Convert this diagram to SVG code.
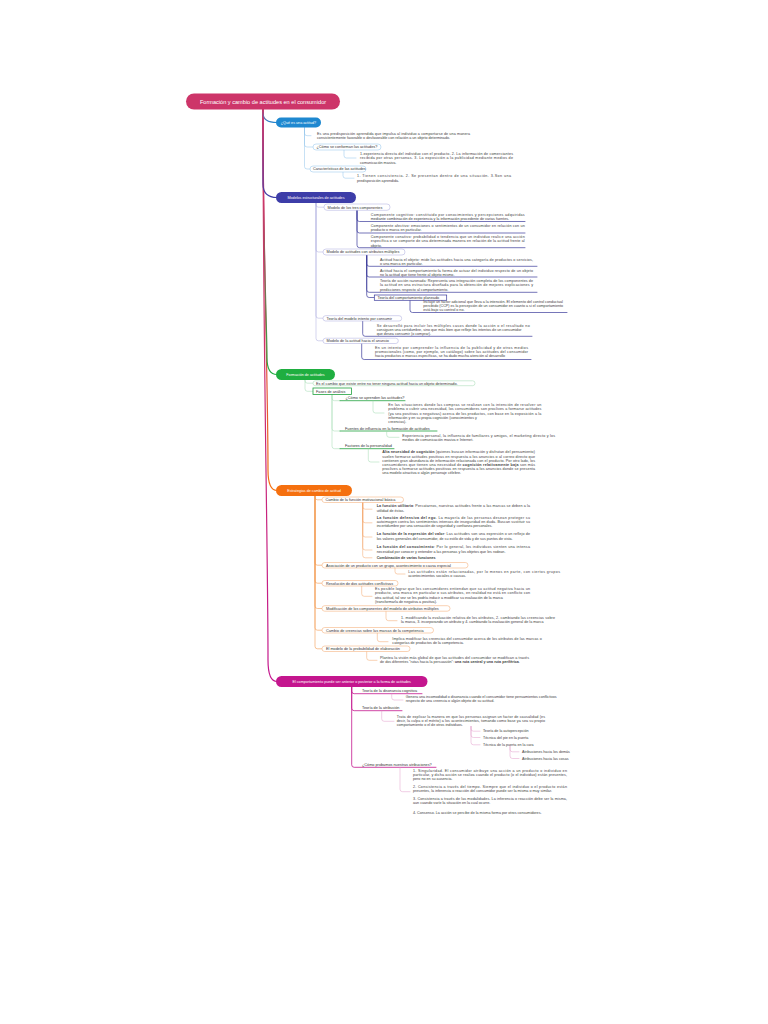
<svg xmlns="http://www.w3.org/2000/svg" width="768" height="1024" viewBox="0 0 768 1024">
<defs>
<style>
text{font-family:"Liberation Sans",Arial,Helvetica,sans-serif}
.t{font-size:3.7px;fill:#3c3c3c}
.l{font-size:3.8px;fill:#333}
.w{font-size:3.7px;fill:#fff;text-anchor:middle}
.ti{font-size:5.6px;fill:#fff;text-anchor:middle}
.b{font-weight:bold}
.c{fill:none;stroke-linecap:round;stroke-linejoin:round}
.tr{stroke-width:1.2}
.bx{fill:#fff;stroke-width:0.5}
.s1{stroke:#8fc3ea;stroke-width:0.5}
.s2l{stroke:#a9a9dc;stroke-width:0.5}
.s2d{stroke:#3b3b9b;stroke-width:0.7}
.s3l{stroke:#9fd9ae;stroke-width:0.5}
.s3d{stroke:#22a23f;stroke-width:0.8}
.s4{stroke:#f3a468;stroke-width:0.5}
.s4m{stroke:#f39a50;stroke-width:0.6}
.s5l{stroke:#e39ccb;stroke-width:0.5}
.s5d{stroke:#c4168e;stroke-width:0.8}
</style>
<linearGradient id="gB" gradientUnits="userSpaceOnUse" x1="0" y1="109" x2="0" y2="123"><stop offset="0" stop-color="#cd3569"/><stop offset="1" stop-color="#1e88d0"/></linearGradient>
<linearGradient id="gI" gradientUnits="userSpaceOnUse" x1="0" y1="109" x2="0" y2="198"><stop offset="0" stop-color="#cd3569"/><stop offset="1" stop-color="#3d3da8"/></linearGradient>
<linearGradient id="gG" gradientUnits="userSpaceOnUse" x1="0" y1="200" x2="0" y2="375"><stop offset="0" stop-color="#cd3569"/><stop offset="1" stop-color="#1fae40"/></linearGradient>
<linearGradient id="gO" gradientUnits="userSpaceOnUse" x1="0" y1="250" x2="0" y2="491"><stop offset="0" stop-color="#cd3569"/><stop offset="1" stop-color="#f5700f"/></linearGradient>
<linearGradient id="gM" gradientUnits="userSpaceOnUse" x1="0" y1="300" x2="0" y2="682"><stop offset="0" stop-color="#cd3569"/><stop offset="1" stop-color="#c4168e"/></linearGradient>
</defs>
<rect width="768" height="1024" fill="#fff"/>

<g id="connectors">
<path class="c tr" stroke="url(#gM)" d="M263,109 C263,350 268,550 268,660 Q268,681.5 277,681.5"/>
<path class="c tr" stroke="url(#gO)" d="M263,109 C263,250 268,380 268,470 Q268,490.5 277,490.5"/>
<path class="c tr" stroke="url(#gG)" d="M263,109 C263,250 267,330 267,358 Q267,374.5 277,374.5"/>
<path class="c tr" stroke="url(#gI)" d="M263,109 V184 Q263,197.5 277,197.5"/>
<path class="c tr" stroke="url(#gB)" d="M263,109 V113 Q263,122.5 277,122.5"/>

<path class="c s1" d="M304.5,127.5 V133.2 Q304.5,135.7 307,135.7 H311"/>
<path class="c s1" d="M304.5,127.5 V144.5 Q304.5,147 307,147 H313"/>
<path class="c s1" d="M304.5,127.5 V166.5 Q304.5,169 307,169 H310"/>
<path class="c s1" d="M344,150 V155.5 Q344,158 346.5,158 H356"/>
<path class="c s1" d="M343,172 V175.7 Q343,178.2 345.5,178.2 H354"/>

<path class="c s2l" d="M316,203 V204.7 Q316,207.2 318.5,207.2 H324"/>
<path class="c s2l" d="M316,203 V249.5 Q316,252 318.5,252 H323"/>
<path class="c s2l" d="M316,203 V315.7 Q316,318.2 318.5,318.2 H323"/>
<path class="c s2l" d="M316,203 V338.3 Q316,340.8 318.5,340.8 H323"/>
<path class="c s2d" d="M357,210.5 V219 Q357,221.5 359.5,221.5 H525"/>
<path class="c s2d" d="M357,210.5 V230.5 Q357,233 359.5,233 H525"/>
<path class="c s2d" d="M357,210.5 V245.2 Q357,247.7 359.5,247.7 H525"/>
<path class="c s2d" d="M366.7,255 V263.8 Q366.7,266.3 369.2,266.3 H537"/>
<path class="c s2d" d="M366.7,255 V274.5 Q366.7,277 369.2,277 H537"/>
<path class="c s2d" d="M366.7,255 V289.8 Q366.7,292.3 369.2,292.3 H537"/>
<path class="c s2d" d="M366.7,255 V295 Q366.7,297.5 369.2,297.5 H374.3"/>
<path class="c s2d" d="M410,300.5 V310 Q410,312.5 412.5,312.5 H567"/>
<path class="c s2d" d="M362.7,321 V333.8 Q362.7,336.3 365.2,336.3 H532"/>
<path class="c s2d" d="M361.7,343.5 V357 Q361.7,359.5 364.2,359.5 H531"/>

<path class="c s3l" d="M305,380 V380.7 Q305,383.2 307.5,383.2 H313"/>
<path class="c s3l" d="M305,380 V388.8 Q305,391.3 307.5,391.3 H313"/>
<path class="c s3l" d="M332,394.5 V398.2 Q332,400.7 334.5,400.7 H340"/>
<path class="c s3l" d="M332,394.5 V428.5 Q332,431 334.5,431 H340"/>
<path class="c s3l" d="M332,394.5 V446.2 Q332,448.7 334.5,448.7 H340"/>
<path class="c s3d" d="M340,400.7 H405"/>
<path class="c s3d" d="M340,431 H437"/>
<path class="c s3d" d="M340,448.7 H394"/>
<path class="c s3l" d="M373,401 V410.5 Q373,413 375.5,413 H384"/>
<path class="c s3l" d="M386.7,431.3 V434.8 Q386.7,437.3 389.2,437.3 H399"/>
<path class="c s3l" d="M368.3,449 V459.5 Q368.3,462 370.8,462 H379"/>

<path class="c s4m" d="M315,496 V497.3 Q315,499.8 317.5,499.8 H322"/>
<path class="c s4m" d="M315,496 V562.7 Q315,565.2 317.5,565.2 H322"/>
<path class="c s4m" d="M315,496 V580.7 Q315,583.2 317.5,583.2 H322"/>
<path class="c s4m" d="M315,496 V606 Q315,608.5 317.5,608.5 H322"/>
<path class="c s4m" d="M315,496 V627.7 Q315,630.2 317.5,630.2 H322"/>
<path class="c s4m" d="M315,496 V646.3 Q315,648.8 317.5,648.8 H322"/>
<path class="c s4" d="M362.7,502.5 V506.7 Q362.7,509.2 365.2,509.2 H372"/>
<path class="c s4" d="M362.7,502.5 V520.3 Q362.7,522.8 365.2,522.8 H372"/>
<path class="c s4" d="M362.7,502.5 V534.5 Q362.7,537 365.2,537 H372"/>
<path class="c s4" d="M362.7,502.5 V547.5 Q362.7,550 365.2,550 H372"/>
<path class="c s4" d="M362.7,502.5 V555.3 Q362.7,557.8 365.2,557.8 H372"/>
<path class="c s4" d="M395,568 V571.5 Q395,574 397.5,574 H405"/>
<path class="c s4" d="M361.7,586 V593.8 Q361.7,596.3 364.2,596.3 H372"/>
<path class="c s4" d="M386,611.2 V618.2 Q386,620.7 388.5,620.7 H397"/>
<path class="c s4" d="M377.3,633 V639.2 Q377.3,641.7 379.8,641.7 H388"/>
<path class="c s4" d="M366.7,651.5 V657.8 Q366.7,660.3 369.2,660.3 H377"/>

<path class="c s5d" d="M351.7,687 V691.2 Q351.7,693.7 354.2,693.7 H422"/>
<path class="c s5d" d="M351.7,687 V708.2 Q351.7,710.7 354.2,710.7 H402"/>
<path class="c s5d" d="M351.7,687 V764.8 Q351.7,767.3 354.2,767.3 H436"/>
<path class="c s5l" d="M391.7,694 V697.5 Q391.7,700 394.2,700 H403"/>
<path class="c s5l" d="M381.7,711 V718.8 Q381.7,721.3 384.2,721.3 H394"/>
<path class="c s5l" d="M471,726.5 V728.7 Q471,731.2 473.5,731.2 H480"/>
<path class="c s5l" d="M471,726.5 V735 Q471,737.5 473.5,737.5 H480"/>
<path class="c s5l" d="M471,726.5 V742.3 Q471,744.8 473.5,744.8 H480"/>
<path class="c s5l" d="M510,746.5 V749.3 Q510,751.8 512.5,751.8 H519"/>
<path class="c s5l" d="M510,746.5 V756 Q510,758.5 512.5,758.5 H519"/>
<path class="c s5l" d="M400,767.5 V789.2 Q400,791.7 402.5,791.7 H410"/>
</g>

<g id="n-title">
<rect x="186" y="93.5" width="154" height="16" rx="8" fill="#cd3569"/>
<text class="ti" x="263" y="103.5">Formación y cambio de actitudes en el consumidor</text>
</g>

<g id="n-s1">
<rect x="276" y="117.5" width="45" height="10" rx="5" fill="#1e88d0"/>
<text class="w" x="298.5" y="123.8">¿Qué es una actitud?</text>
</g>
<g id="n-s1-def">
<text class="t" x="317" y="134.5" textLength="153">Es una predisposición aprendida que impulsa al individuo a comportarse de una manera</text>
<text class="t" x="317" y="139">consistentemente favorable o desfavorable con relación a un objeto determinado.</text>
</g>
<g id="n-s1-como">
<rect class="bx s1" x="313" y="144" width="68" height="6" rx="3"/>
<text class="l" x="316.5" y="148.4">¿Cómo se conforman las actitudes?</text>
</g>
<g id="n-s1-como-t">
<text class="t" x="360" y="154.6" textLength="153">1.experiencia directa del individuo con el producto. 2. La información de comerciantes</text>
<text class="t" x="360" y="159.1" textLength="153">recibida por otras personas. 3. La exposición a la publicidad mediante medios de</text>
<text class="t" x="360" y="163.5">comunicación masiva.</text>
</g>
<g id="n-s1-car">
<rect class="bx s1" x="310" y="166" width="56" height="6" rx="3"/>
<text class="l" x="313" y="170.4">Características de las actitudes</text>
</g>
<g id="n-s1-car-t">
<text class="t" x="357" y="177.3" textLength="154">1. Tienen consistencia. 2. Se presentan dentro de una situación. 3.Son una</text>
<text class="t" x="357" y="181.7">predisposición aprendida.</text>
</g>

<g id="n-s2">
<rect x="276" y="192" width="80" height="11" rx="5.5" fill="#3d3da8"/>
<text class="w" x="316" y="198.8">Modelos estructurales de actitudes</text>
</g>
<g id="n-s2-tres">
<rect class="bx s2l" x="324" y="204" width="66" height="6.3" rx="3"/>
<text class="l" x="327.5" y="208.5">Modelo de los tres componentes</text>
</g>
<g id="n-s2-cog">
<text class="t" x="370.7" y="215.6" textLength="154">Componente cognitivo: constituido por conocimientos y percepciones adquiridas</text>
<text class="t" x="370.7" y="220">mediante combinación de experiencia y la información procedente de varias fuentes.</text>
</g>
<g id="n-s2-afe">
<text class="t" x="370.7" y="227" textLength="154">Componente afectivo: emociones o sentimientos de un consumidor en relación con un</text>
<text class="t" x="370.7" y="231.3">producto o marca en particular.</text>
</g>
<g id="n-s2-con">
<text class="t" x="370.7" y="238" textLength="154">Componente conativo: probabilidad o tendencia que un individuo realice una acción</text>
<text class="t" x="370.7" y="242.3" textLength="154">específica o se comporte de una determinada manera en relación de la actitud frente al</text>
<text class="t" x="370.7" y="246.6">objeto.</text>
</g>
<g id="n-s2-atr">
<rect class="bx s2l" x="323" y="249" width="82" height="6" rx="3"/>
<text class="l" x="326.5" y="253.3">Modelo de actitudes con atributos múltiples</text>
</g>
<g id="n-s2-obj">
<text class="t" x="380" y="261" textLength="153">Actitud hacia el objeto: mide las actitudes hacia una categoría de productos o servicios,</text>
<text class="t" x="380" y="265.2">o una marca en particular.</text>
</g>
<g id="n-s2-comp">
<text class="t" x="380" y="271.6" textLength="153">Actitud hacia el comportamiento:la forma de actuar del individuo respecto de un objeto</text>
<text class="t" x="380" y="275.9">no la actitud que tiene frente al objeto mismo.</text>
</g>
<g id="n-s2-raz">
<text class="t" x="380" y="282" textLength="153">Teoría de acción razonada: Representa una integración completa de los componentes de</text>
<text class="t" x="380" y="286.3" textLength="153">la actitud en una estructura diseñada para la obtención de mejores explicaciones y</text>
<text class="t" x="380" y="290.6">predicciones respecto al comportamiento.</text>
</g>
<g id="n-s2-plan">
<rect x="374.3" y="295" width="72.4" height="5.3" fill="#fff" stroke="#3b3b9b" stroke-width="0.7"/>
<text class="l" x="377.5" y="299">Teoría del comportamiento planeado</text>
</g>
<g id="n-s2-plan-t">
<text class="t" x="423.3" y="302.8">Incluye un factor adicional que lleva a la intención. El elemento del control conductual</text>
<text class="t" x="423.3" y="307.1">percibido (CCP) es la percepción de un consumidor en cuanto a si el comportamiento</text>
<text class="t" x="423.3" y="311.3">está bajo su control o no.</text>
</g>
<g id="n-s2-int">
<rect class="bx s2l" x="323" y="315.7" width="78.7" height="5.3" rx="2.6"/>
<text class="l" x="326.5" y="319.6">Teoría del modelo intento por consumir</text>
</g>
<g id="n-s2-int-t">
<text class="t" x="376.7" y="326.6" textLength="153">Se desarrolló para incluir los múltiples casos donde la acción o el resultado no</text>
<text class="t" x="376.7" y="330.6">consiguen una certidumbre, sino que más bien que refleje los intentos de un consumidor</text>
<text class="t" x="376.7" y="334.6">que desea consumir (o comprar).</text>
</g>
<g id="n-s2-anu">
<rect class="bx s2l" x="323" y="338.2" width="75.3" height="5.3" rx="2.6"/>
<text class="l" x="326.5" y="342.1">Modelo de la actitud hacia el anuncio</text>
</g>
<g id="n-s2-anu-t">
<text class="t" x="375" y="348.6" textLength="153">En un intento por comprender la influencia de la publicidad y de otros medios</text>
<text class="t" x="375" y="352.6" textLength="153">promocionales (como, por ejemplo, un catálogo) sobre las actitudes del consumidor</text>
<text class="t" x="375" y="357">hacia productos o marcas específicas, se ha dado mucha atención al desarrollo</text>
</g>

<g id="n-s3">
<rect x="276" y="369" width="59" height="11" rx="5.5" fill="#1fae40"/>
<text class="w" x="305.5" y="375.8">Formación de actitudes</text>
</g>
<g id="n-s3-def">
<rect class="bx s3l" x="313" y="380.8" width="162" height="4.9" rx="2.4"/>
<text class="l" x="316" y="384.5">Es el cambio que existe entre no tener ninguna actitud hacia un objeto determinado.</text>
</g>
<g id="n-s3-fases">
<rect x="313" y="388" width="38.5" height="6.5" fill="#fff" stroke="#22a23f" stroke-width="0.8"/>
<text class="l" x="316" y="392.6">Fases de análisis</text>
</g>
<g id="n-s3-apr">
<text class="l" x="345.5" y="399.4">¿Cómo se aprenden las actitudes?</text>
</g>
<g id="n-s3-apr-t">
<text class="t" x="388.3" y="406" textLength="153">En las situaciones donde las compras se realizan con la intención de resolver un</text>
<text class="t" x="388.3" y="410.3" textLength="153">problema o cubrir una necesidad, los consumidores son proclives a formarse actitudes</text>
<text class="t" x="388.3" y="414.6" textLength="153">(ya sea positivas o negativas) acerca de los productos, con base en la exposición a la</text>
<text class="t" x="388.3" y="418.8">información y en su propia cognición (conocimientos y</text>
<text class="t" x="388.3" y="423.3">creencias).</text>
</g>
<g id="n-s3-fue">
<text class="l" x="345" y="429.6">Fuentes de influencia en la formación de actitudes</text>
</g>
<g id="n-s3-fue-t">
<text class="t" x="402.3" y="436.6" textLength="152.7">Experiencia personal, la influencia de familiares y amigos, el marketing directo y los</text>
<text class="t" x="402.3" y="440.8">medios de comunicación masiva e Internet.</text>
</g>
<g id="n-s3-per">
<text class="l" x="345" y="447.3">Factores de la personalidad</text>
</g>
<g id="n-s3-per-t">
<text class="t" x="382.3" y="453.3" textLength="152.7"><tspan class="b">Alta necesidad de cognición</tspan> (quienes buscan información y disfrutan del pensamiento)</text>
<text class="t" x="382.3" y="457.6" textLength="152.7">suelen formarse actitudes positivas en respuesta a los anuncios o al correo directo que</text>
<text class="t" x="382.3" y="461.7" textLength="152.7">contienen gran abundancia de información relacionada con el producto. Por otro lado, los</text>
<text class="t" x="382.3" y="465.8" textLength="152.7">consumidores que tienen una necesidad de <tspan class="b">cognición relativamente baja</tspan> son más</text>
<text class="t" x="382.3" y="470" textLength="152.7">proclives a formarse actitudes positivas en respuesta a los anuncios donde se presenta</text>
<text class="t" x="382.3" y="474.1">una modelo atractiva o algún personaje célebre.</text>
</g>

<g id="n-s4">
<rect x="276" y="485" width="76" height="11" rx="5.5" fill="#f5700f"/>
<text class="w" x="314" y="491.8">Estrategias de cambio de actitud</text>
</g>
<g id="n-s4-mot">
<rect class="bx s4" x="322" y="497" width="81.5" height="5.5" rx="2.7"/>
<text class="l" x="325.5" y="501">Cambio de la función motivacional básica</text>
</g>
<g id="n-s4-util">
<text class="t" x="376.7" y="507.3" textLength="153.3"><tspan class="b">La función utilitaria</tspan>: Percatarnos, nuestras actitudes frente a las marcas se deben a la</text>
<text class="t" x="376.7" y="511.8">utilidad de éstas.</text>
</g>
<g id="n-s4-ego">
<text class="t" x="376.7" y="518.6" textLength="153.3"><tspan class="b">La función defensiva del ego</tspan>. La mayoría de las personas desean proteger su</text>
<text class="t" x="376.7" y="523" textLength="153.3">autoimagen contra los sentimientos intensos de inseguridad en duda. Buscan sustituir su</text>
<text class="t" x="376.7" y="527.3">incertidumbre por una sensación de seguridad y confianza personales.</text>
</g>
<g id="n-s4-val">
<text class="t" x="376.7" y="535.3" textLength="153.3"><tspan class="b">La función de la expresión del valor</tspan>: Las actitudes son una expresión o un reflejo de</text>
<text class="t" x="376.7" y="539.5">los valores generales del consumidor, de su estilo de vida y de sus puntos de vista.</text>
</g>
<g id="n-s4-con">
<text class="t" x="376.7" y="548.3" textLength="153.3"><tspan class="b">La función del conocimiento</tspan>: Por lo general, los individuos sienten una intensa</text>
<text class="t" x="376.7" y="552.6">necesidad por conocer y entender a las personas y los objetos que les rodean.</text>
</g>
<g id="n-s4-comb">
<text class="t b" x="376.7" y="559.3">Combinación de varias funciones</text>
</g>
<g id="n-s4-aso">
<rect class="bx s4" x="322" y="562.5" width="146" height="5.5" rx="2.7"/>
<text class="l" x="326" y="566.5">Asociación de un producto con un grupo, acontecimiento o causa especial</text>
</g>
<g id="n-s4-aso-t">
<text class="t" x="408.3" y="572.6" textLength="151.7">Las actitudes están relacionadas, por lo menos en parte, con ciertos grupos</text>
<text class="t" x="408.3" y="577">acontecimientos sociales o causas.</text>
</g>
<g id="n-s4-res">
<rect class="bx s4" x="322" y="580.5" width="76" height="5.5" rx="2.7"/>
<text class="l" x="326" y="584.5">Resolución de dos actitudes conflictivas</text>
</g>
<g id="n-s4-res-t">
<text class="t" x="375" y="590.3" textLength="155">Es posible lograr que los consumidores entiendan que su actitud negativa hacia un</text>
<text class="t" x="375" y="594.4" textLength="155">producto, una marca en particular o sus atributos, en realidad no está en conflicto con</text>
<text class="t" x="375" y="598.6">otra actitud, tal vez se les podría inducir a modificar su evaluación de la marca</text>
<text class="t" x="375" y="602.9">(transformarla de negativa a positiva).</text>
</g>
<g id="n-s4-mod">
<rect class="bx s4" x="322" y="605.7" width="128" height="5.5" rx="2.7"/>
<text class="l" x="326" y="609.7">Modificación de los componentes del modelo de atributos múltiples</text>
</g>
<g id="n-s4-mod-t">
<text class="t" x="401" y="619" textLength="154">1. modificando la evaluación relativa de los atributos, 2. cambiando las creencias sobre</text>
<text class="t" x="401" y="623.1">la marca, 3. incorporando un atributo y 4. cambiando la evaluación general de la marca</text>
</g>
<g id="n-s4-cre">
<rect class="bx s4" x="322" y="627.5" width="111.5" height="5.5" rx="2.7"/>
<text class="l" x="326" y="631.5">Cambio de creencias sobre las marcas de la competencia</text>
</g>
<g id="n-s4-cre-t">
<text class="t" x="392.3" y="640" textLength="149.4">Implica modificar las creencias del consumidor acerca de los atributos de las marcas o</text>
<text class="t" x="392.3" y="644.1">categorías de productos de la competencia.</text>
</g>
<g id="n-s4-ela">
<rect class="bx s4" x="322" y="646" width="88" height="5.5" rx="2.7"/>
<text class="l" x="326" y="650">El modelo de la probabilidad de elaboración</text>
</g>
<g id="n-s4-ela-t">
<text class="t" x="380" y="658.6" textLength="149">Plantea la visión más global de que las actitudes del consumidor se modifican a través</text>
<text class="t" x="380" y="662.7">de dos diferentes “rutas hacia la persuasión”: <tspan class="b">una ruta central y una ruta periférica</tspan>.</text>
</g>

<g id="n-s5">
<rect x="276" y="676" width="151.5" height="11" rx="5.5" fill="#c4168e"/>
<text class="w" x="351.7" y="682.8">El comportamiento puede ser anterior o posterior a la forma de actitudes</text>
</g>
<g id="n-s5-dis">
<text class="l" x="362" y="692">Teoría de la disonancia cognitiva</text>
</g>
<g id="n-s5-dis-t">
<text class="t" x="405.7" y="698" textLength="151">Genera una incomodidad o disonancia cuando el consumidor tiene pensamientos conflictivos</text>
<text class="t" x="405.7" y="702.3">respecto de una creencia o algún objeto de su actitud.</text>
</g>
<g id="n-s5-atr">
<text class="l" x="362" y="709">Teoría de la atribución</text>
</g>
<g id="n-s5-atr-t">
<text class="t" x="396.7" y="717.6" textLength="148.3">Trata de explicar la manera en que las personas asignan un factor de causalidad (es</text>
<text class="t" x="396.7" y="721.7" textLength="148.3">decir, la culpa o el mérito) a los acontecimientos, tomando como base ya sea su propio</text>
<text class="t" x="396.7" y="725.8">comportamiento o el de otros individuos.</text>
</g>
<g id="n-s5-auto"><text class="t" x="483" y="732.4">Teoría de la autopercepción</text></g>
<g id="n-s5-pie"><text class="t" x="483" y="738.7">Técnica del pie en la puerta</text></g>
<g id="n-s5-cara"><text class="t" x="483" y="746">Técnica de la puerta en la cara</text></g>
<g id="n-s5-dem"><text class="t" x="522" y="753">Atribuciones hacia los demás</text></g>
<g id="n-s5-cos"><text class="t" x="522" y="759.7">Atribuciones hacia las cosas</text></g>
<g id="n-s5-pro">
<text class="l" x="362" y="766">¿Cómo probamos nuestras atribuciones?</text>
</g>
<g id="n-s5-pro-t">
<text class="t" x="413" y="772" textLength="154">1. Singularidad. El consumidor atribuye una acción a un producto o individuo en</text>
<text class="t" x="413" y="776.1" textLength="154">particular, y dicha acción se realiza cuando el producto (o el individuo) están presentes,</text>
<text class="t" x="413" y="780.2">pero no en su ausencia.</text>
<text class="t" x="413" y="788" textLength="154">2. Consistencia a través del tiempo. Siempre que el individuo o el producto están</text>
<text class="t" x="413" y="792.1">presentes, la inferencia o reacción del consumidor puede ser la misma o muy similar.</text>
<text class="t" x="413" y="799.6" textLength="154">3. Consistencia a través de las modalidades. La inferencia o reacción debe ser la misma,</text>
<text class="t" x="413" y="803.7">aun cuando varíe la situación en la cual ocurre.</text>
<text class="t" x="413" y="814">4. Consenso. La acción se percibe de la misma forma por otros consumidores.</text>
</g>
</svg>
